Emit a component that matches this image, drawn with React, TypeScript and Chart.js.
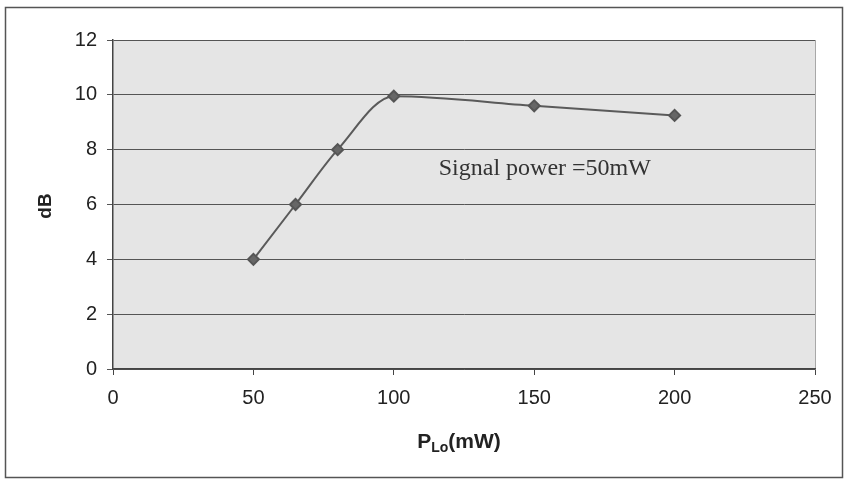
import React, { useEffect, useRef } from "react";
import { Chart, registerables } from "chart.js";

Chart.register(...registerables);

const pLo = [50, 65, 80, 100, 150, 200];
const gainDb = [4, 6, 8, 9.95, 9.6, 9.25];
const xTicks = [0, 50, 100, 150, 200, 250];
const yTicks = [0, 2, 4, 6, 8, 10, 12];
const annotationText = "Signal power =50mW";
const annotationAt = { x: 116, y: 7.3 };
const yTitle = "dB";
const xTitleMain = "P";
const xTitleSub = "Lo";
const xTitleRest = "(mW)";

const decorPlugin = {
  id: "decor",
  beforeDraw(chart: any) {
    const { ctx, chartArea: a } = chart;
    ctx.save();
    ctx.fillStyle = "#ffffff";
    ctx.fillRect(0, 0, chart.width, chart.height);
    ctx.fillStyle = "#e5e5e5";
    ctx.fillRect(a.left, a.top, a.right - a.left, a.bottom - a.top);
    ctx.strokeStyle = "#a8a8a8";
    ctx.lineWidth = 1;
    ctx.beginPath();
    ctx.moveTo(a.right + 0.5, a.top);
    ctx.lineTo(a.right + 0.5, a.bottom);
    ctx.stroke();
    ctx.restore();
  },
  afterDraw(chart: any) {
    const { ctx, chartArea: a, scales } = chart;
    ctx.save();
    // outer frame
    ctx.strokeStyle = "#555";
    ctx.lineWidth = 1.5;
    ctx.strokeRect(5.5, 7.5, 837, 470);
    // y title
    ctx.fillStyle = "#222";
    ctx.font = "bold 19px 'Liberation Sans', Arial, sans-serif";
    ctx.textAlign = "center";
    ctx.textBaseline = "middle";
    ctx.translate(46, 206);
    ctx.rotate(-Math.PI / 2);
    ctx.fillText(yTitle, 0, 0);
    ctx.restore();

    // x title with subscript
    ctx.save();
    ctx.fillStyle = "#222";
    ctx.textBaseline = "alphabetic";
    ctx.textAlign = "left";
    const big = "bold 21px 'Liberation Sans', Arial, sans-serif";
    const small = "bold 14px 'Liberation Sans', Arial, sans-serif";
    ctx.font = big;
    const w1 = ctx.measureText(xTitleMain).width;
    const w3 = ctx.measureText(xTitleRest).width;
    ctx.font = small;
    const w2 = ctx.measureText(xTitleSub).width;
    const total = w1 + w2 + w3;
    const cx = 459;
    let x = cx - total / 2;
    const base = 448;
    ctx.font = big;
    ctx.fillText(xTitleMain, x, base);
    x += w1;
    ctx.font = small;
    ctx.fillText(xTitleSub, x, base + 4);
    x += w2;
    ctx.font = big;
    ctx.fillText(xTitleRest, x, base);

    // annotation
    ctx.font = "24px 'Liberation Serif', 'Times New Roman', serif";
    ctx.fillStyle = "#333";
    ctx.textBaseline = "middle";
    ctx.fillText(
      annotationText,
      scales.x.getPixelForValue(annotationAt.x),
      scales.y.getPixelForValue(annotationAt.y)
    );
    ctx.restore();
  },
};

export default function App() {
  const ref = useRef<HTMLCanvasElement>(null);
  useEffect(() => {
    document.body.style.margin = "0";
    const chart = new Chart(ref.current as HTMLCanvasElement, {
      type: "line",
      data: {
        datasets: [
          {
            data: pLo.map((x, i) => ({ x, y: gainDb[i] })),
            borderColor: "#5a5a5a",
            borderWidth: 2,
            backgroundColor: "#5e5e5e",
            pointStyle: "rectRot",
            pointRadius: 5.5,
            pointBorderColor: "#555",
            pointBackgroundColor: "#666",
            cubicInterpolationMode: "monotone",
          },
        ],
      },
      options: {
        animation: false,
        responsive: false,
        devicePixelRatio: 1,
        layout: { padding: { top: 40, right: 31, bottom: 0, left: 0 } },
        plugins: {
          legend: { display: false },
          tooltip: { enabled: false },
        },
        scales: {
          x: {
            type: "linear",
            min: 0,
            max: 250,
            afterBuildTicks: (s: any) => {
              s.ticks = xTicks.map((v) => ({ value: v }));
            },
            afterFit: (s: any) => {
              s.height = 115;
            },
            grid: {
              drawOnChartArea: false,
              drawTicks: true,
              tickLength: 6,
              color: "#444",
            },
            border: { display: true, color: "#444", width: 1.5 },
            ticks: {
              color: "#222",
              padding: 11,
              maxRotation: 0,
              font: { family: "'Liberation Sans', Arial, sans-serif", size: 20 },
            },
          },
          y: {
            type: "linear",
            min: 0,
            max: 12,
            afterBuildTicks: (s: any) => {
              s.ticks = yTicks.map((v) => ({ value: v }));
            },
            afterFit: (s: any) => {
              s.width = 113;
            },
            grid: {
              color: "#555",
              lineWidth: 1,
              tickLength: 6,
            },
            border: { display: true, color: "#444", width: 1.5 },
            ticks: {
              color: "#222",
              padding: 10,
              font: { family: "'Liberation Sans', Arial, sans-serif", size: 20 },
            },
          },
        },
      },
      plugins: [decorPlugin],
    } as any);
    return () => chart.destroy();
  }, []);
  return <canvas ref={ref} width={846} height={484} style={{ display: "block" }} />;
}
